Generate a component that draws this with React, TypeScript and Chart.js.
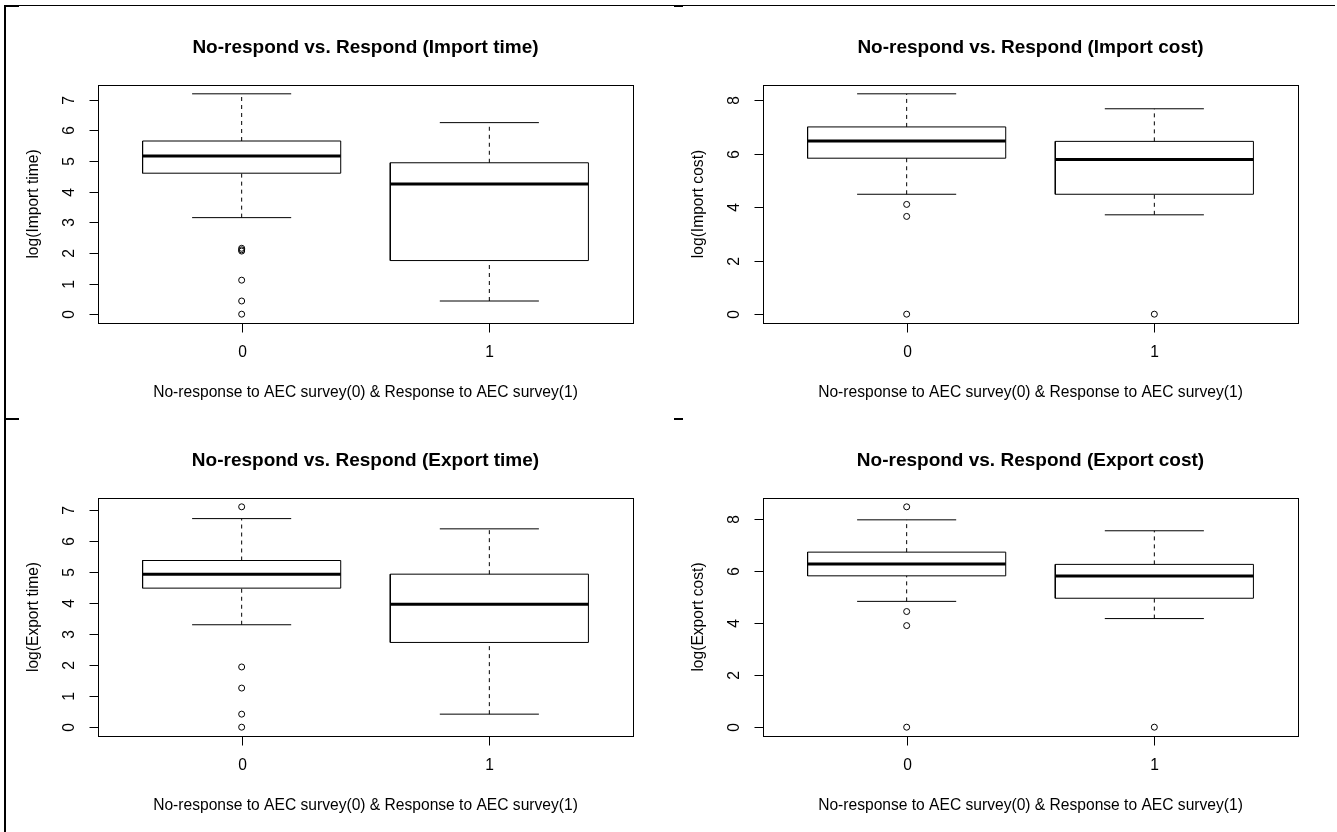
import React, { useEffect, useRef } from "react";
import { Chart, registerables } from "chart.js";

Chart.register(...registerables);

// ---- data ----
const groupLabels = ["0", "1"];
const groupPositions = [1, 2];

// five-number stats per group: [lower whisker, Q1, median, Q3, upper whisker]
const importTimeGroup0 = [3.15, 4.6, 5.16, 5.65, 7.19];
const importTimeGroup1 = [0.43, 1.75, 4.25, 4.94, 6.25];
const importTimeOutliers0 = [2.15, 2.1, 2.06, 1.11, 0.43, 0];
const importTimeOutliers1: number[] = [];
const importTimeYTicks = [0, 1, 2, 3, 4, 5, 6, 7];

const importCostGroup0 = [4.49, 5.84, 6.48, 7.01, 8.25];
const importCostGroup1 = [3.72, 4.49, 5.79, 6.47, 7.69];
const importCostOutliers0 = [4.11, 3.66, 0];
const importCostOutliers1 = [0];
const importCostYTicks = [0, 2, 4, 6, 8];

const exportTimeGroup0 = [3.3, 4.48, 4.93, 5.37, 6.72];
const exportTimeGroup1 = [0.42, 2.73, 3.96, 4.93, 6.39];
const exportTimeOutliers0 = [7.1, 1.94, 1.26, 0.42, 0];
const exportTimeOutliers1: number[] = [];
const exportTimeYTicks = [0, 1, 2, 3, 4, 5, 6, 7];

const exportCostGroup0 = [4.83, 5.81, 6.26, 6.72, 7.96];
const exportCostGroup1 = [4.17, 4.95, 5.8, 6.25, 7.54];
const exportCostOutliers0 = [8.46, 4.44, 3.9, 0];
const exportCostOutliers1 = [0];
const exportCostYTicks = [0, 2, 4, 6, 8];

const xAxisTitle = "No-response to AEC survey(0) & Response to AEC survey(1)";

const panels = [
  {
    title: "No-respond vs. Respond (Import time)",
    yTitle: "log(Import time)",
    stats: [importTimeGroup0, importTimeGroup1],
    outliers: [importTimeOutliers0, importTimeOutliers1],
    yTicks: importTimeYTicks,
    left: 5,
    top: 5,
  },
  {
    title: "No-respond vs. Respond (Import cost)",
    yTitle: "log(Import cost)",
    stats: [importCostGroup0, importCostGroup1],
    outliers: [importCostOutliers0, importCostOutliers1],
    yTicks: importCostYTicks,
    left: 670,
    top: 5,
  },
  {
    title: "No-respond vs. Respond (Export time)",
    yTitle: "log(Export time)",
    stats: [exportTimeGroup0, exportTimeGroup1],
    outliers: [exportTimeOutliers0, exportTimeOutliers1],
    yTicks: exportTimeYTicks,
    left: 5,
    top: 418,
  },
  {
    title: "No-respond vs. Respond (Export cost)",
    yTitle: "log(Export cost)",
    stats: [exportCostGroup0, exportCostGroup1],
    outliers: [exportCostOutliers0, exportCostOutliers1],
    yTicks: exportCostYTicks,
    left: 670,
    top: 418,
  },
];

// ---- style ----
const CANVAS_W = 665;
const CANVAS_H = 414;
const BOX_HALF = 0.4; // boxwex 0.8
const STAPLE_HALF = 0.2; // staplewex 0.5
const FONT = '"Liberation Sans", Arial, sans-serif';
const BASE_PX = 15.6;
const TITLE_PX = 19;

type Pt = { x: number; y: number | null };

function buildDatasets(stats: number[][], outliers: number[][]) {
  const boxes: Pt[] = [];
  const medians: Pt[] = [];
  const whiskers: Pt[] = [];
  const staples: Pt[] = [];
  const outPts: Pt[] = [];
  stats.forEach((s, i) => {
    const p = groupPositions[i];
    const [lo, q1, med, q3, hi] = s;
    boxes.push(
      { x: p - BOX_HALF, y: q1 },
      { x: p + BOX_HALF, y: q1 },
      { x: p + BOX_HALF, y: q3 },
      { x: p - BOX_HALF, y: q3 },
      { x: p - BOX_HALF, y: q1 },
      { x: p, y: null }
    );
    medians.push({ x: p - BOX_HALF, y: med }, { x: p + BOX_HALF, y: med }, { x: p, y: null });
    whiskers.push(
      { x: p, y: q3 },
      { x: p, y: hi },
      { x: p, y: null },
      { x: p, y: lo },
      { x: p, y: q1 },
      { x: p, y: null }
    );
    staples.push(
      { x: p - STAPLE_HALF, y: hi },
      { x: p + STAPLE_HALF, y: hi },
      { x: p, y: null },
      { x: p - STAPLE_HALF, y: lo },
      { x: p + STAPLE_HALF, y: lo },
      { x: p, y: null }
    );
    outliers[i].forEach((v) => outPts.push({ x: p, y: v }));
  });
  const line = {
    showLine: true,
    spanGaps: false,
    pointRadius: 0,
    pointHoverRadius: 0,
    borderColor: "#000",
    backgroundColor: "rgba(0,0,0,0)",
    fill: false,
    tension: 0,
  };
  return [
    { ...line, label: "whiskers", data: whiskers, borderWidth: 1, borderDash: [4, 4] },
    { ...line, label: "staples", data: staples, borderWidth: 1 },
    { ...line, label: "boxes", data: boxes, borderWidth: 1 },
    { ...line, label: "medians", data: medians, borderWidth: 3, borderCapStyle: "butt" },
    {
      label: "outliers",
      data: outPts,
      showLine: false,
      pointStyle: "circle",
      pointRadius: 3,
      pointHoverRadius: 3,
      pointBorderWidth: 1,
      pointBorderColor: "#000",
      pointBackgroundColor: "rgba(0,0,0,0)",
    },
  ];
}

function rAxesPlugin(title: string, yTitle: string, yTicks: number[]) {
  return {
    id: "rAxes",
    afterDraw(chart: any) {
      const { ctx, chartArea: a } = chart;
      const xs = chart.scales.x;
      const ys = chart.scales.y;
      const L = Math.round(a.left) + 0.5;
      const R = Math.round(a.right) + 0.5;
      const T = Math.round(a.top) + 0.5;
      const B = Math.round(a.bottom) + 0.5;
      ctx.save();
      ctx.strokeStyle = "#000";
      ctx.fillStyle = "#000";
      ctx.lineWidth = 1;
      ctx.setLineDash([]);
      ctx.strokeRect(L, T, R - L, B - T);

      ctx.font = `${BASE_PX}px ${FONT}`;
      ctx.textAlign = "center";
      ctx.textBaseline = "middle";
      // y ticks
      yTicks.forEach((v) => {
        const py = Math.round(ys.getPixelForValue(v)) + 0.5;
        ctx.beginPath();
        ctx.moveTo(L - 9, py);
        ctx.lineTo(L, py);
        ctx.stroke();
        ctx.save();
        ctx.translate(L - 29, py);
        ctx.rotate(-Math.PI / 2);
        ctx.fillText(String(v), 0, 0);
        ctx.restore();
      });
      // x ticks
      groupPositions.forEach((p, i) => {
        const px = Math.round(xs.getPixelForValue(p)) + 0.5;
        ctx.beginPath();
        ctx.moveTo(px, B);
        ctx.lineTo(px, B + 9);
        ctx.stroke();
        ctx.fillText(groupLabels[i], px, B + 29);
      });
      // axis titles
      const cx = (a.left + a.right) / 2;
      const cy = (a.top + a.bottom) / 2;
      ctx.fillText(xAxisTitle, cx, B + 69);
      ctx.save();
      ctx.translate(L - 65, cy);
      ctx.rotate(-Math.PI / 2);
      ctx.fillText(yTitle, 0, 0);
      ctx.restore();
      // main title
      ctx.font = `bold ${TITLE_PX}px ${FONT}`;
      ctx.fillText(title, cx, 42.5);
      ctx.restore();
    },
  };
}

function BoxPanel(props: any) {
  const ref = useRef<HTMLCanvasElement | null>(null);
  const { title, yTitle, stats, outliers, yTicks, left, top } = props;
  useEffect(() => {
    if (!ref.current) return;
    const all: number[] = [];
    stats.forEach((s: number[]) => all.push(...s));
    outliers.forEach((o: number[]) => all.push(...o));
    const dMin = Math.min(...all);
    const dMax = Math.max(...all);
    const ext = (dMax - dMin) * 0.04;
    const chart = new Chart(ref.current, {
      type: "scatter",
      data: { datasets: buildDatasets(stats, outliers) as any },
      options: {
        animation: false,
        responsive: false,
        maintainAspectRatio: false,
        layout: { padding: { left: 93, right: 37, top: 80, bottom: 96 } },
        plugins: {
          legend: { display: false },
          tooltip: { enabled: false },
          title: { display: false },
        },
        events: [],
        scales: {
          x: { type: "linear", min: 0.42, max: 2.58, display: false },
          y: { type: "linear", min: dMin - ext, max: dMax + ext, display: false },
        },
      },
      plugins: [rAxesPlugin(title, yTitle, yTicks)],
    } as any);
    return () => chart.destroy();
  }, []);
  return (
    <canvas
      ref={ref}
      width={CANVAS_W}
      height={CANVAS_H}
      style={{ position: "absolute", left, top, width: CANVAS_W, height: CANVAS_H }}
    />
  );
}

const frameLines = [
  { left: 4, top: 5, width: 1331, height: 1 },
  { left: 4, top: 5, width: 2, height: 827 },
  { left: 4, top: 5, width: 15, height: 2 },
  { left: 4, top: 418, width: 15, height: 2 },
  { left: 674, top: 5, width: 9, height: 2 },
  { left: 674, top: 418, width: 9, height: 2 },
];

export default function App() {
  return (
    <div
      style={{
        position: "absolute",
        left: 0,
        top: 0,
        width: 1337,
        height: 832,
        background: "#fff",
        overflow: "hidden",
      }}
    >
      {frameLines.map((f, i) => (
        <div key={i} style={{ position: "absolute", background: "#000", ...f }} />
      ))}
      {panels.map((p, i) => (
        <BoxPanel key={i} {...p} />
      ))}
    </div>
  );
}
